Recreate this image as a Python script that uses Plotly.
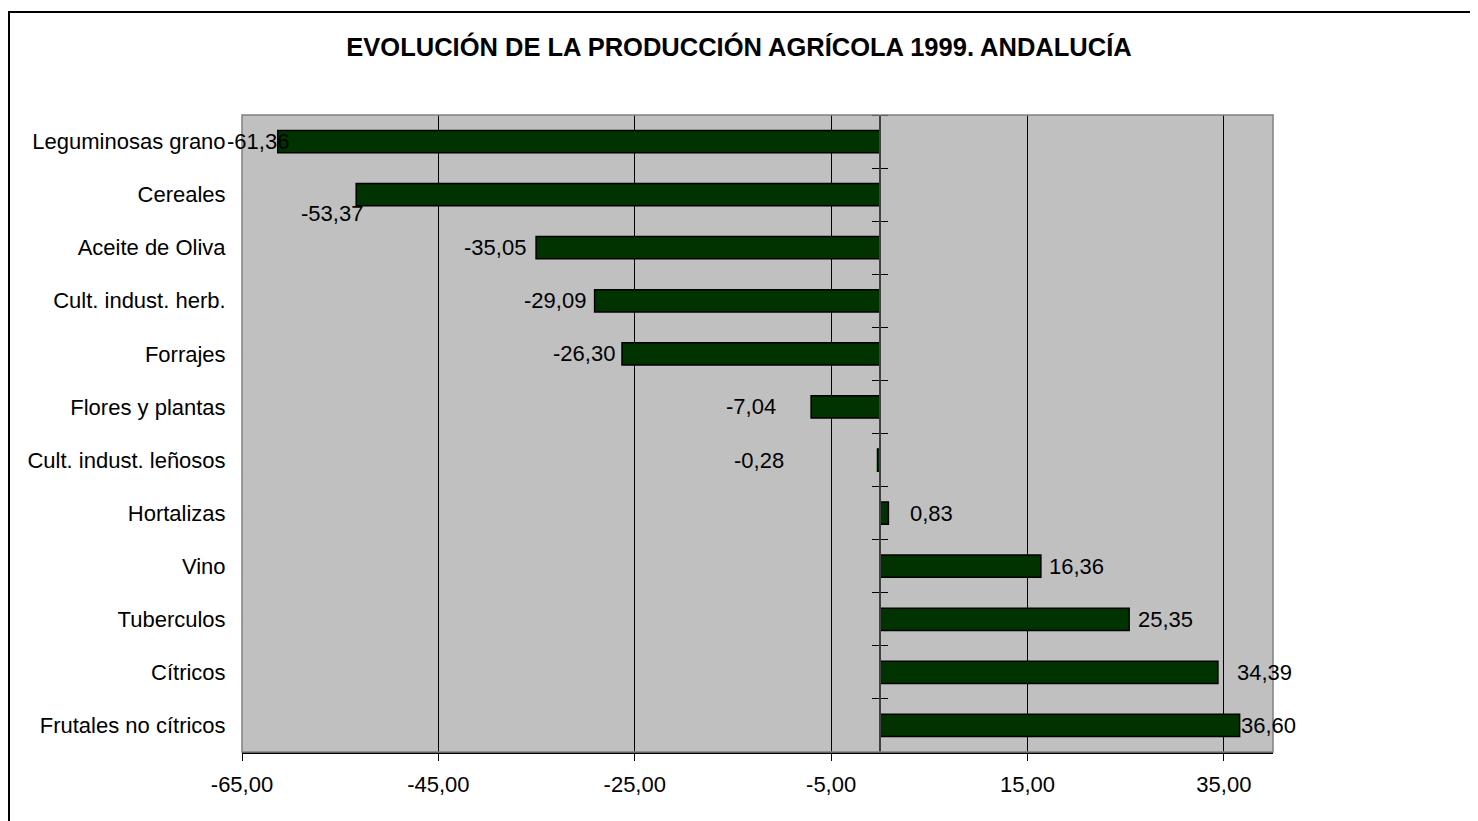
import plotly.graph_objects as go

# ---- data ----
categories = [
    "Leguminosas grano", "Cereales", "Aceite de Oliva", "Cult. indust. herb.",
    "Forrajes", "Flores y plantas", "Cult. indust. leñosos", "Hortalizas",
    "Vino", "Tuberculos", "Cítricos", "Frutales no cítricos",
]
values = [-61.36, -53.37, -35.05, -29.09, -26.30, -7.04, -0.28, 0.83,
          16.36, 25.35, 34.39, 36.60]
x_ticks = [-65, -45, -25, -5, 15, 35]
title_text = "EVOLUCIÓN DE LA PRODUCCIÓN AGRÍCOLA 1999. ANDALUCÍA"

# label offsets (pixels) relative to bar end, mimicking the original placement
label_dx = [-20, -24, -41, -40, -38, -60, -118, 43, 36, 36, 47, 29]
label_dy = [0, -19, 0, 0, 0, 0, 0, 0, 0, 0, 0, 0]

W, H = 1470, 813
L, T = 234, 107
PR, PB = 1265, 744          # plot right / bottom in figure pixels
R, B = W - PR, H - PB
pw, ph = W - L - R, H - T - B
XMIN, XMAX = -65, 40
FONT = "Liberation Sans, Arial, sans-serif"
n = len(categories)
idx = list(range(n))

def fmt(v):
    return f"{v:.2f}".replace(".", ",")

fig = go.Figure()
fig.add_trace(go.Bar(
    x=values, y=idx, orientation="h", width=0.42,
    marker=dict(color="#003300", line=dict(color="#000000", width=1.5)),
    hoverinfo="x+y", showlegend=False,
))
# invisible helper traces for the tick axes at x = 0
fig.add_trace(go.Scatter(x=[None], y=[None], yaxis="y2", showlegend=False))
fig.add_trace(go.Scatter(x=[None], y=[None], yaxis="y3", showlegend=False))

zero_pos = (0 - XMIN) / (XMAX - XMIN)
bounds = [i - 0.5 for i in range(n + 1)]

fig.update_layout(
    width=W, height=H,
    margin=dict(l=L, r=R, t=T, b=B, pad=0),
    paper_bgcolor="white", plot_bgcolor="#C0C0C0",
    font=dict(family=FONT, size=22, color="black"),
    title=dict(text="<b>" + title_text + "</b>", x=731 / W, xanchor="center",
               xref="container",
               y=1 - 39 / H, yanchor="middle", yref="container",
               font=dict(family=FONT, size=25.5, color="black")),
    xaxis=dict(range=[XMIN, XMAX], tickvals=x_ticks,
               ticktext=[fmt(t) for t in x_ticks],
               showgrid=True, gridcolor="#000000", gridwidth=1,
               zeroline=False, showline=True, linecolor="#000000", linewidth=1.5,
               ticks="outside", ticklen=7, tickcolor="#000000", tickwidth=1,
               ticklabelstandoff=5, tickfont=dict(size=22)),
    yaxis=dict(range=[n - 0.5, -0.5], tickvals=idx, ticktext=categories,
               showgrid=False, zeroline=False, showline=False,
               ticks="outside", ticklen=11, tickcolor="rgba(0,0,0,0)",
               tickfont=dict(size=22)),
    yaxis2=dict(range=[n - 0.5, -0.5], overlaying="y", anchor="free",
                position=zero_pos, side="left", tickvals=bounds,
                showticklabels=False, showgrid=False, zeroline=False,
                showline=True, linecolor="#404040", linewidth=2,
                ticks="outside", ticklen=7, tickcolor="#000000", tickwidth=1),
    yaxis3=dict(range=[n - 0.5, -0.5], overlaying="y", anchor="free",
                position=zero_pos, side="right", tickvals=bounds,
                showticklabels=False, showgrid=False, zeroline=False,
                showline=False,
                ticks="outside", ticklen=7, tickcolor="#000000", tickwidth=1),
)

# plot area border (gray)
fig.add_shape(type="rect", xref="paper", yref="paper", x0=0, y0=0, x1=1, y1=1,
              line=dict(color="#808080", width=1.5), fillcolor="rgba(0,0,0,0)",
              layer="above")
# outer chart border (black), cut off at right/bottom like the original
fig.add_shape(type="rect", xref="paper", yref="paper",
              x0=(1 - L) / pw, x1=(W + 20 - L) / pw,
              y0=-(H + 20 - (T + ph)) / ph, y1=(T + ph - 4) / ph,
              line=dict(color="#000000", width=2), fillcolor="rgba(0,0,0,0)",
              layer="above")

for i, v in enumerate(values):
    fig.add_annotation(x=v, y=i, xref="x", yref="y", text=fmt(v),
                       showarrow=False, xanchor="center", yanchor="middle",
                       xshift=label_dx[i], yshift=label_dy[i],
                       font=dict(family=FONT, size=22, color="black"))

fig.write_html("out.html")
